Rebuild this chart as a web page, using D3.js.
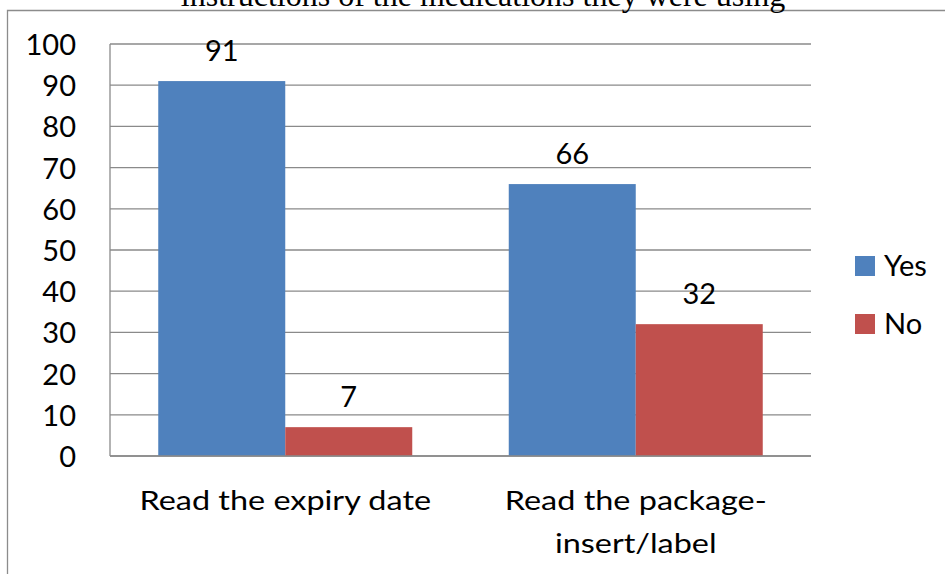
<!DOCTYPE html>
<html>
<head>
<meta charset="utf-8">
<script src="https://cdn.jsdelivr.net/npm/d3@7"></script>
<style>
  html, body { margin: 0; padding: 0; background: #fff; }
  svg { display: block; }
  text { fill: #000; }
</style>
</head>
<body>
<script>
// Survey responses: reading expiry dates and package inserts
const categories = [["Read the expiry date"], ["Read the package-", "insert/label"]];
const seriesNames = ["Yes", "No"];
const yesValues = [91, 66];
const noValues = [7, 32];
const yTicks = [0, 10, 20, 30, 40, 50, 60, 70, 80, 90, 100];
const titleText = "instructions of the medications they were using";

const colors = { Yes: "#4F81BD", No: "#C0504D" };
const values = { Yes: yesValues, No: noValues };

const W = 945, H = 574;
const plot = { left: 110, right: 811, top: 44, bottom: 456 };
const gridColor = "#8a8a8a";
const sans = "Lato, 'Open Sans', sans-serif";

const svg = d3.select("body").append("svg").attr("width", W).attr("height", H);

// outer frame of the chart, running past the right and bottom edges
svg.append("path")
  .attr("d", `M7.5,${H + 5} L7.5,10.5 L${W + 5},10.5`)
  .attr("fill", "none").attr("stroke", "#8c8c8c").attr("stroke-width", 1.3);

// title (partly clipped by the top edge)
svg.append("text")
  .attr("x", 483).attr("y", 6)
  .attr("text-anchor", "middle")
  .style("font-family", "'Liberation Serif', 'Times New Roman', serif")
  .style("font-size", "32px")
  .text(titleText);

const x0 = d3.scaleBand()
  .domain(d3.range(categories.length))
  .range([plot.left, plot.right])
  .paddingInner(0).paddingOuter(0);

const groupWidth = 254;
const x1 = d3.scaleBand()
  .domain(seriesNames)
  .range([0, groupWidth]);

const y = d3.scaleLinear().domain([0, 100]).range([plot.bottom, plot.top]);

// gridlines
svg.append("g")
  .selectAll("line")
  .data(yTicks)
  .join("line")
  .attr("x1", plot.left).attr("x2", plot.right)
  .attr("y1", d => y(d)).attr("y2", d => y(d))
  .attr("stroke", gridColor).attr("stroke-width", 1.3);

// vertical axis line
svg.append("line")
  .attr("x1", plot.left).attr("x2", plot.left)
  .attr("y1", y(100)).attr("y2", y(0))
  .attr("stroke", gridColor).attr("stroke-width", 1.3);

// y tick labels
const yAxis = d3.axisLeft(y).tickValues(yTicks).tickSize(0).tickPadding(34);
const ya = svg.append("g").attr("transform", `translate(${plot.left},0)`).call(yAxis);
ya.select(".domain").remove();
ya.selectAll("text")
  .style("font-family", sans).style("font-size", "29px").attr("fill", "#000")
  .attr("dy", "0.36em");

// bars
const groups = svg.append("g").selectAll("g")
  .data(categories.map((c, i) => i))
  .join("g")
  .attr("transform", i => `translate(${x0(i) + (x0.bandwidth() - groupWidth) / 2},0)`);

groups.selectAll("rect")
  .data(i => seriesNames.map(s => ({ s, v: values[s][i] })))
  .join("rect")
  .attr("x", d => x1(d.s))
  .attr("width", x1.bandwidth())
  .attr("y", d => y(d.v))
  .attr("height", d => y(0) - y(d.v))
  .attr("fill", d => colors[d.s]);

// value labels
groups.selectAll("text.val")
  .data(i => seriesNames.map(s => ({ s, v: values[s][i] })))
  .join("text")
  .attr("class", "val")
  .attr("x", d => x1(d.s) + x1.bandwidth() / 2)
  .attr("y", d => y(d.v) - 20)
  .attr("text-anchor", "middle")
  .style("font-family", sans).style("font-size", "29px")
  .text(d => d.v);

// baseline drawn over the bars
svg.append("line")
  .attr("x1", plot.left).attr("x2", plot.right)
  .attr("y1", y(0)).attr("y2", y(0))
  .attr("stroke", gridColor).attr("stroke-width", 1.3);

// category labels, slightly widened
const cat = svg.append("g").selectAll("text")
  .data(categories.map((c, i) => ({ c, i })))
  .join("text")
  .attr("text-anchor", "middle")
  .style("font-family", sans).style("font-size", "27px")
  .attr("transform", d => `translate(${x0(d.i) + x0.bandwidth() / 2},0) scale(1.2,1)`);
cat.selectAll("tspan")
  .data(d => d.c)
  .join("tspan")
  .attr("x", 0)
  .attr("y", (t, j) => 510 + j * 43)
  .text(t => t);

// legend
const legend = svg.append("g").selectAll("g")
  .data(seriesNames)
  .join("g")
  .attr("transform", (s, i) => `translate(855,${256 + i * 58})`);
legend.append("rect")
  .attr("width", 20).attr("height", 20)
  .attr("fill", s => colors[s]);
legend.append("text")
  .attr("x", 29).attr("y", 20)
  .style("font-family", sans).style("font-size", "29px")
  .text(s => s);
</script>
</body>
</html>
